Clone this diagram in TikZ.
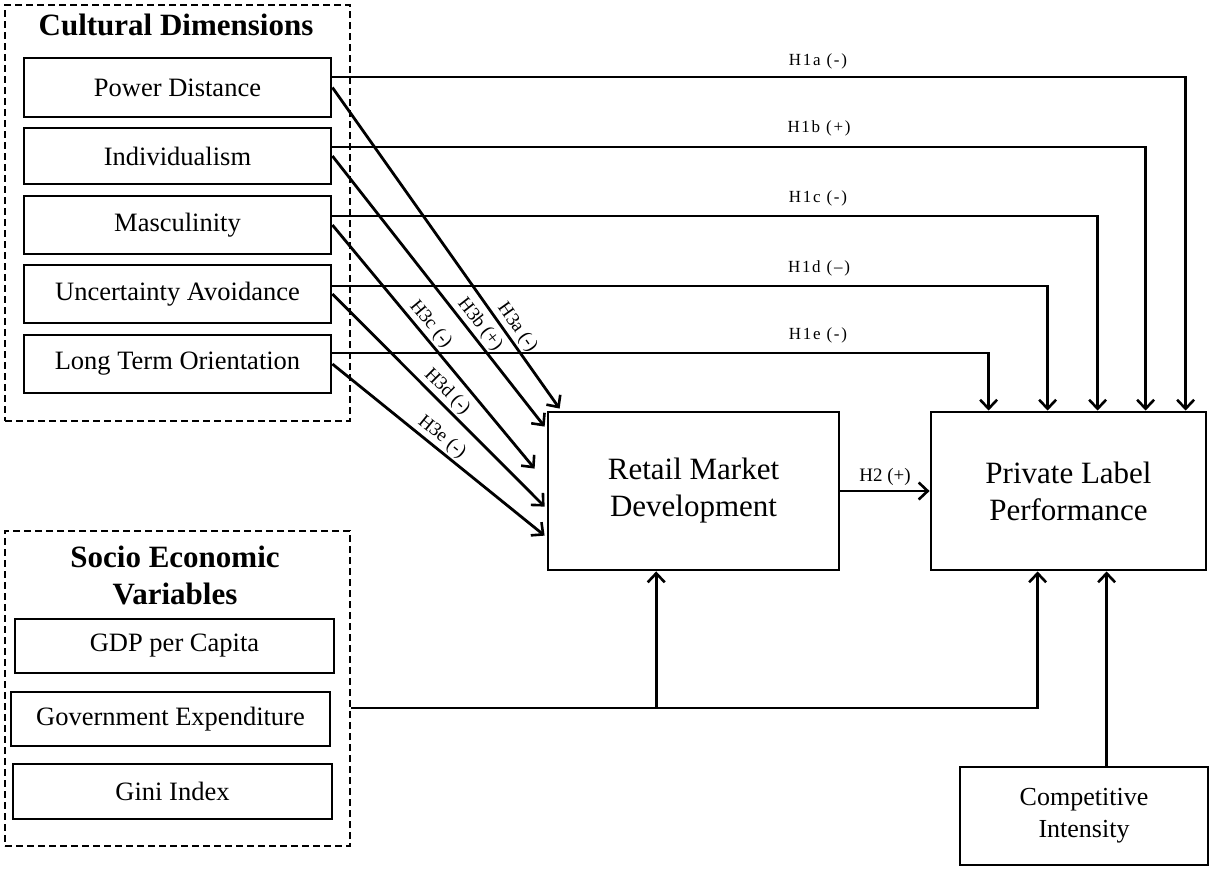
\documentclass[tikz,border=0pt]{standalone}
\usepackage{fontspec}
\setmainfont{Liberation Serif}
\usetikzlibrary{arrows.meta,calc}
\begin{document}
\begin{tikzpicture}[x=1pt,y=-1pt,
  box/.style={draw,line width=2.8pt,inner sep=0pt,align=center,font=\fontsize{26.5}{32}\selectfont},
  bigbox/.style={box,font=\fontsize{31}{37}\selectfont},
  grp/.style={draw,line width=2.4pt,dash pattern=on 7pt off 4pt,inner sep=0pt},
  ttl/.style={font=\fontsize{31}{37}\selectfont\bfseries,align=center,inner sep=0pt},
  hlab/.style={font=\fontsize{17}{20}\selectfont\addfontfeature{LetterSpace=10},inner sep=1pt},
  dlab/.style={font=\fontsize{19}{22}\selectfont,inner sep=2pt,sloped,above},
  ln/.style={line width=2.8pt},
  conn/.style={ln,-{Straight Barb[length=9pt,width=17pt,line width=2.6pt]}}]
\useasboundingbox (0,0) rectangle (1210,868);

% groups
\node[grp,minimum width=345pt,minimum height=416pt] (cd) at (177.5,213) {};
\node[ttl] (cdt) at (176,25) {Cultural Dimensions};
\node[grp,minimum width=345pt,minimum height=315pt] (se) at (177.5,688.5) {};
\node[ttl] (set) at (175,575) {Socio Economic\\Variables};

% cultural boxes
\node[box,minimum width=307pt,minimum height=59pt] (pd) at (177.5,87.5) {Power Distance};
\node[box,minimum width=307pt,minimum height=56pt] (ind) at (177.5,156) {Individualism};
\node[box,minimum width=307pt,minimum height=58pt] (mas) at (177.5,225) {Masculinity};
\node[box,minimum width=307pt,minimum height=58pt] (ua) at (177.5,294) {Uncertainty Avoidance};
\node[box,minimum width=307pt,minimum height=58pt] (lto) at (177.5,364) {Long Term Orientation};

% socio boxes
\node[box,minimum width=319pt,minimum height=54pt] (gdp) at (174.5,646) {GDP per Capita};
\node[box,minimum width=319pt,minimum height=54pt] (gov) at (170.5,719) {Government Expenditure};
\node[box,minimum width=319pt,minimum height=55pt] (gini) at (172.5,791.5) {Gini Index};

% main boxes
\node[bigbox,minimum width=291pt,minimum height=158pt] (rmd) at (693.5,491) {Retail Market\\Development};
\node[bigbox,minimum width=275pt,minimum height=158pt] (plp) at (1068.5,491) {Private Label\\Performance};
\node[box,minimum width=248pt,minimum height=98pt,font=\fontsize{26}{32}\selectfont] (ci) at (1084,816) {Competitive\\Intensity};

% H1 paths
\draw[conn] ($(pd.east)+(0,-10.5)$) -| ($(plp.north west)+(256,0)$);
\draw[conn] ($(ind.east)+(0,-9)$) -| ($(plp.north west)+(216,0)$);
\draw[conn] ($(mas.east)+(0,-9)$) -| ($(plp.north west)+(168,0)$);
\draw[conn] ($(ua.east)+(0,-8)$) -| ($(plp.north west)+(118,0)$);
\draw[conn] ($(lto.east)+(0,-11)$) -| ($(plp.north west)+(59,0)$);
\node[hlab] (l1a) at (818,61) {H1a (-)};
\node[hlab] (l1b) at (819,128) {H1b (+)};
\node[hlab] (l1c) at (818,198) {H1c (-)};
\node[hlab] (l1d) at (819,268) {H1d (–)};
\node[hlab] (l1e) at (818,335) {H1e (-)};

% H3 paths
\draw[conn] (pd.east) -- node[dlab,pos=0.77] {H3a (-)} ($(rmd.north west)+(13,-2)$);
\draw[conn] (ind.east) -- node[dlab,pos=0.65] {H3b (+)} ($(rmd.north west)+(-2,16)$);
\draw[conn] (mas.east) -- node[dlab,pos=0.44] {H3c (-)} ($(rmd.north west)+(-12,58)$);
\draw[conn] (ua.east) -- node[dlab,pos=0.50] {H3d (-)} ($(rmd.north west)+(-2,96)$);
\draw[conn] (lto.east) -- node[dlab,pos=0.48] {H3e (-)} ($(rmd.north west)+(-2,125)$);

% H2
\draw[conn] (rmd.east) -- node[above,font=\fontsize{19}{22}\selectfont,inner sep=4pt] {H2 (+)} (plp.west);

% socio-economic connections
\coordinate (j) at ($(se.east)+(305,19.5)$);
\draw[conn] ($(se.east)+(0,19.5)$) -| ($(plp.south west)+(108,0)$);
\draw[conn] (j) -- (j |- rmd.south);

% competitive intensity
\coordinate (cin) at ($(ci.north west)+(148,0)$);
\draw[conn] (cin) -- (cin |- plp.south);
\end{tikzpicture}
\end{document}
